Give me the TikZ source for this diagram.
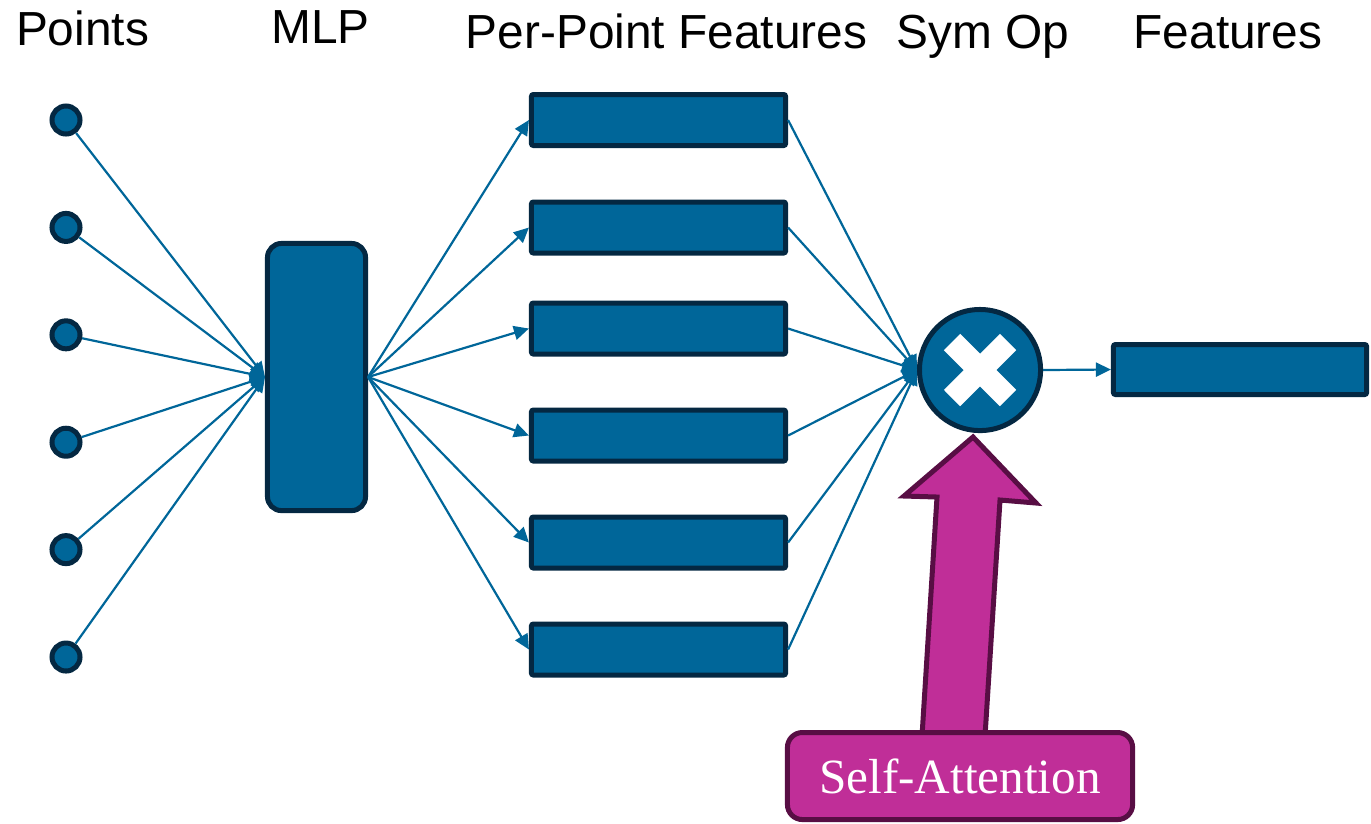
\documentclass[tikz,border=0pt]{standalone}
\usepackage{fontspec}
\setmainfont{Liberation Sans}
\newfontfamily\attnfont{Liberation Serif}
\usetikzlibrary{arrows.meta}
\definecolor{nodeblue}{RGB}{0,102,153}
\definecolor{nodeedge}{RGB}{4,40,66}
\definecolor{attnfill}{RGB}{192,46,152}
\definecolor{attnedge}{RGB}{88,14,68}
\begin{document}
\begin{tikzpicture}[x=0.01cm, y=-0.01cm,
	point/.style={circle, draw=nodeedge, fill=nodeblue, line width=0.05cm, minimum size=0.28cm, inner sep=0pt},
	feat/.style={rectangle, draw=nodeedge, fill=nodeblue, line width=0.05cm, rounded corners=0.02cm, minimum width=2.54cm, minimum height=0.51cm, inner sep=0pt},
	title/.style={anchor=base, inner sep=0pt, font=\fontsize{13.6pt}{16pt}\selectfont},
	link/.style={draw=nodeblue, line width=0.022cm, -{Triangle[length=0.15cm, width=0.14cm]}},
	attn/.style={draw=attnedge, fill=attnfill, line width=0.05cm}]
		\useasboundingbox (0,0) rectangle (1371,823);
		% Titles
		\node[title] (Points title) at (82.5,45) {Points};
		\node[title] (MLP title) at (320.5,43) {MLP};
		\node[title] (Per-Point title) at (666.5,48) {Per-Point Features};
		\node[title] (Sym Op title) at (983,48) {Sym Op};
		\node[title] (Features title) at (1228,48) {Features};
		% Nodes
		\node[point] (Point 1) at (66,120) {};
		\node[point] (Point 2) at (66,227.4) {};
		\node[point] (Point 3) at (66,334.8) {};
		\node[point] (Point 4) at (66,442.2) {};
		\node[point] (Point 5) at (66,549.6) {};
		\node[point] (Point 6) at (66,657) {};
		\node[feat, rounded corners=0.14cm, minimum width=0.98cm, minimum height=2.67cm] (MLP) at (316.5,377) {};
		\node[feat] (Feature 1) at (658.5,120) {};
		\node[feat] (Feature 2) at (658.5,227.5) {};
		\node[feat] (Feature 3) at (658.5,328.5) {};
		\node[feat] (Feature 4) at (658.5,435.5) {};
		\node[feat] (Feature 5) at (658.5,542.5) {};
		\node[feat] (Feature 6) at (658.5,649.5) {};
		\node[point, minimum size=1.21cm] (Sym Op) at (980,370) {};
		\node[feat, minimum width=2.53cm, minimum height=0.50cm] (Features) at (1240,369.5) {};
		\draw[white, line width=0.23cm] ([shift={(-28,-28)}]Sym Op.center) -- ([shift={(28,28)}]Sym Op.center);
		\draw[white, line width=0.23cm] ([shift={(28,-28)}]Sym Op.center) -- ([shift={(-28,28)}]Sym Op.center);
		% Attention arrow
		\draw[attn] (922,736) -- (937,497) -- (904,496) -- (973,437) -- (1036,503) -- (1000,500) -- (985,736) -- cycle;
		\node[attn, rounded corners=0.15cm, minimum width=3.45cm, minimum height=0.87cm, inner sep=0pt, text=white, font=\attnfont\fontsize{14pt}{16pt}\selectfont] (Self-Attention) at (960,776) {Self-Attention};
		% Arrows
		\draw[link] (Point 1) -- (MLP.west);
		\draw[link] (Point 2) -- (MLP.west);
		\draw[link] (Point 3) -- (MLP.west);
		\draw[link] (Point 4) -- (MLP.west);
		\draw[link] (Point 5) -- (MLP.west);
		\draw[link] (Point 6) -- (MLP.west);
		\draw[link] (MLP.east) -- (Feature 1.west);
		\draw[link] (MLP.east) -- (Feature 2.west);
		\draw[link] (MLP.east) -- (Feature 3.west);
		\draw[link] (MLP.east) -- (Feature 4.west);
		\draw[link] (MLP.east) -- (Feature 5.west);
		\draw[link] (MLP.east) -- (Feature 6.west);
		\draw[link] (Feature 1.east) -- (Sym Op.west);
		\draw[link] (Feature 2.east) -- (Sym Op.west);
		\draw[link] (Feature 3.east) -- (Sym Op.west);
		\draw[link] (Feature 4.east) -- (Sym Op.west);
		\draw[link] (Feature 5.east) -- (Sym Op.west);
		\draw[link] (Feature 6.east) -- (Sym Op.west);
		\draw[link] (Sym Op.east) -- (Features.west);
	\end{tikzpicture}
\end{document}
